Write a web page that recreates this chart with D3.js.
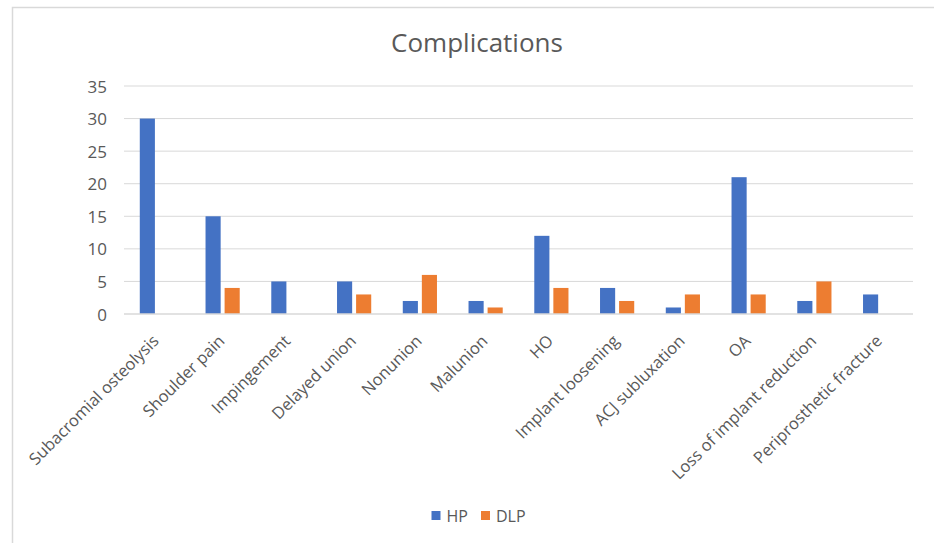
<!DOCTYPE html>
<html><head><meta charset="utf-8">
<script src="https://cdn.jsdelivr.net/npm/d3@7"></script>
<style>
html,body{margin:0;padding:0;background:#fff;}
svg{display:block;}
text{font-family:"Open Sans","Noto Sans",sans-serif;}
</style></head>
<body>
<script>
const categories = ["Subacromial osteolysis","Shoulder pain","Impingement","Delayed union","Nonunion","Malunion","HO","Implant loosening","ACJ subluxation","OA","Loss of implant reduction","Periprosthetic fracture"];
const hp  = [30,15,5,5,2,2,12,4,1,21,2,3];
const dlp = [0,4,0,3,6,1,4,2,3,3,5,0];
const seriesNames = ["HP","DLP"];
const colors = ["#4472C4","#ED7D31"];
const yTicks = [0,5,10,15,20,25,30,35];
const title = "Complications";

const W = 934, H = 543;
const svg = d3.select("body").append("svg").attr("width",W).attr("height",H);

// chart frame
svg.append("rect").attr("x",12.5).attr("y",7.5).attr("width",940).attr("height",560)
  .attr("fill","#fff").attr("stroke","#D9D9D9").attr("stroke-width",1.5);

const m = {left:124, right:913, top:86, bottom:314};
const x = d3.scaleBand().domain(categories).range([m.left,m.right]).padding(0);
const y = d3.scaleLinear().domain([0,35]).range([m.bottom,m.top]);

// gridlines
svg.append("g").selectAll("line").data(yTicks.filter(d=>d>0)).join("line")
  .attr("x1",m.left).attr("x2",m.right)
  .attr("y1",d=>y(d)).attr("y2",d=>y(d))
  .attr("stroke","#D9D9D9").attr("stroke-width",1);

// y axis labels
const yAxis = d3.axisLeft(y).tickValues(yTicks).tickSize(0).tickPadding(17);
const gy = svg.append("g").attr("transform",`translate(${m.left},0)`).call(yAxis);
gy.select(".domain").remove();
gy.selectAll("text").attr("fill","#595959").style("font-size","17px").attr("dy","0.36em")
  .style("font-family",'"Open Sans","Noto Sans",sans-serif');

// bars
const bw = x.bandwidth()*0.23, gap = x.bandwidth()*0.06;
const data = categories.map((c,i)=>({c, vals:[hp[i],dlp[i]]}));
const groups = svg.append("g").selectAll("g").data(data).join("g");
groups.selectAll("rect").data(d=>d.vals.map((v,k)=>({c:d.c,v,k}))).join("rect")
  .filter(d=>d.v>0)
  .attr("x",d=>x(d.c)+x.bandwidth()/2 + (d.k===0 ? -gap/2-bw : gap/2))
  .attr("width",bw)
  .attr("y",d=>y(d.v)).attr("height",d=>y(0)-y(d.v))
  .attr("fill",d=>colors[d.k]);

// x axis line
svg.append("line").attr("x1",m.left).attr("x2",m.right)
  .attr("y1",y(0)).attr("y2",y(0)).attr("stroke","#D9D9D9").attr("stroke-width",1.5);

// x labels
const xAxis = d3.axisBottom(x).tickSize(0).tickPadding(0);
const gx = svg.append("g").attr("transform",`translate(0,${m.bottom})`).call(xAxis);
gx.select(".domain").remove();
gx.selectAll("text")
  .attr("fill","#595959").style("font-size","16.5px")
  .style("font-family",'"Open Sans","Noto Sans",sans-serif')
  .attr("text-anchor","end").attr("y",0).attr("dy","0")
  .attr("transform","translate(3,28) rotate(-45)");

// title
svg.append("text").attr("x",477).attr("y",52).attr("text-anchor","middle")
  .attr("fill","#595959").style("font-size","26px").text(title);

// legend
const lg = svg.append("g");
const legX = [431.5,481];
seriesNames.forEach((n,i)=>{
  lg.append("rect").attr("x",legX[i]).attr("y",511).attr("width",9).attr("height",9).attr("fill",colors[i]);
  lg.append("text").attr("x",legX[i]+15).attr("y",521.5).attr("fill","#595959")
    .style("font-size","16px").text(n);
});
</script>
</body></html>
